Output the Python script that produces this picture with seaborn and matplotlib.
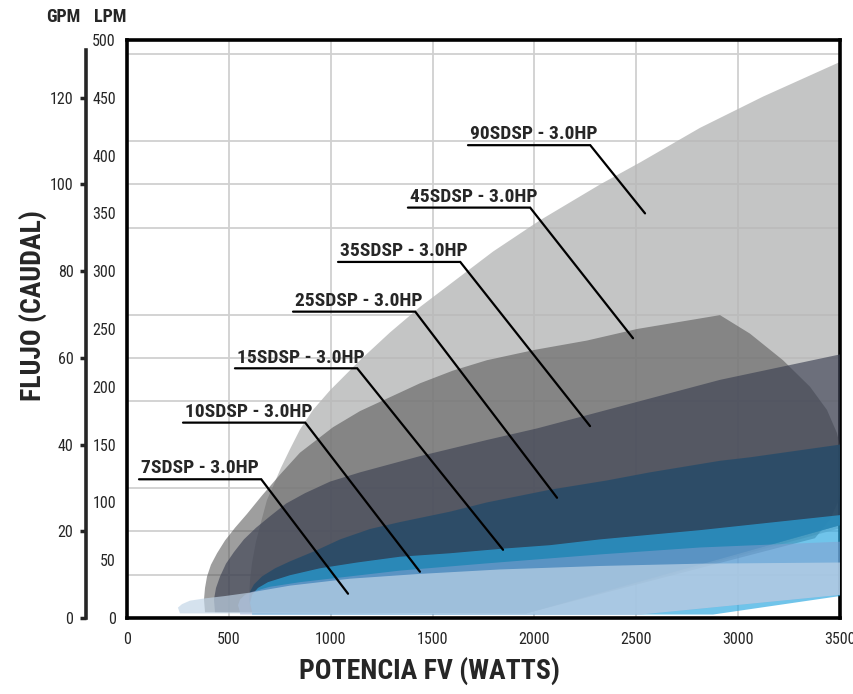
import numpy as np
import matplotlib
matplotlib.use("Agg")
import matplotlib.pyplot as plt
from matplotlib import font_manager
from matplotlib.ticker import MultipleLocator
import seaborn as sns

# ---------------- Data ----------------
# Outline of each pump's operating region: watts (x) and litres per minute (y),
# from the nose along the upper curve, round the right end and back along the bottom.
w_90 = [604, 599, 604, 614, 633, 658, 687, 722, 756, 800, 849, 913, 997, 1144, 1291, 1438, 1610,
        1797, 2027, 2322, 2518, 2813, 3122, 3500, 3697, 3697, 1960, 604]
lpm_90 = [5, 17, 33, 48, 66, 83, 102, 116, 130, 146, 163, 180, 197, 223, 247, 269, 292,
          317, 344, 375, 394, 424, 451, 481, 496, 87, 4, 5]

w_45 = [383, 378, 383, 393, 412, 442, 481, 530, 589, 663, 751, 849, 1011, 1144, 1291, 1438, 1600,
        1767, 2003, 2258, 2504, 2911, 3058, 3220, 3353, 3436, 3485, 3510, 3515, 3495, 3451, 3377,
        1960, 383]
lpm_45 = [5, 16, 26, 36, 46, 56, 67, 78, 90, 106, 124, 143, 165, 179, 191, 203, 214,
          223, 232, 240, 250, 262, 246, 223, 200, 180, 160, 141, 121, 102, 85, 69,
          4, 5]

w_35 = [432, 427, 437, 457, 486, 525, 574, 633, 702, 781, 874, 997, 1144, 1291, 1438, 1767,
        2013, 2420, 2911, 3500, 3697, 3697, 1960, 432]
lpm_35 = [5, 16, 26, 36, 47, 57, 68, 78, 88, 99, 108, 118, 126, 133, 140, 154,
          164, 183, 206, 228, 235, 90, 4, 5]

w_25 = [614, 599, 604, 623, 663, 727, 800, 923, 1046, 1193, 1340, 1586, 1767, 2077, 2356, 2567,
        2911, 3058, 3500, 3697, 3697, 1960, 614]
lpm_25 = [5, 16, 23, 29, 36, 43, 49, 58, 68, 77, 83, 92, 100, 111, 119, 126,
          136, 139, 150, 154, 90, 4, 5]

w_15 = [614, 604, 614, 643, 692, 800, 947, 1129, 1340, 1586, 1846, 2077, 2322, 2813, 3500, 3697,
        3697, 3500, 2877, 614]
lpm_15 = [5, 13, 20, 26, 31, 37, 43, 48, 53, 56, 60, 63, 68, 76, 89, 93,
          23, 19, 3, 3]

w_10 = [555, 545, 555, 579, 619, 702, 849, 1095, 1340, 1748, 2322, 2813, 3500, 3697,
        3697, 3500, 2518, 555]
lpm_10 = [5, 11, 16, 20, 23, 27, 31, 36, 41, 47, 55, 61, 66, 67,
          24, 20, 3, 3]

w_7 = [260, 250, 270, 309, 383, 481, 604, 800, 1095, 1424, 1831, 2322, 2813, 3500, 3697,
       3697, 3500, 2518, 260]
lpm_7 = [4, 9, 12, 15, 17, 19, 22, 28, 34, 38, 42, 45, 47, 48, 49,
         24, 20, 3, 4]

# Labels: text, start of the underline (watts, lpm) and the point the leader ends on
label_text = ['7SDSP - 3.0HP', '10SDSP - 3.0HP', '15SDSP - 3.0HP', '25SDSP - 3.0HP',
              '35SDSP - 3.0HP', '45SDSP - 3.0HP', '90SDSP - 3.0HP']
label_w = [59, 275, 530, 815, 1036, 1379, 1674]
label_lpm = [120, 169, 216, 265, 308, 355, 409]
tip_w = [1085, 1438, 1846, 2111, 2273, 2484, 2543]
tip_lpm = [21, 40, 59, 104, 166, 242, 350]

x_ticks = [0, 500, 1000, 1500, 2000, 2500, 3000, 3500]
lpm_ticks = [0, 50, 100, 150, 200, 250, 300, 350, 400, 450, 500]
gpm_ticks = [0, 20, 40, 60, 80, 100, 120]

# ---------------- Style ----------------
sns.set_style("white")
names = {f.name for f in font_manager.fontManager.ttflist}
narrow = next((n for n in ['Liberation Sans Narrow', 'DejaVu Sans Condensed', 'Roboto Condensed',
                           'Open Sans Condensed'] if n in names), 'DejaVu Sans')
plt.rcParams['font.family'] = [narrow, 'DejaVu Sans']

fig = plt.figure(figsize=(8.54, 6.94), dpi=100)
ax = fig.add_axes([0.1487, 0.1095, 0.8349, 0.8329])

# shapes, back to front
shapes = [
    (w_90, lpm_90, '#b6b7b7', 0.8),
    (w_45, lpm_45, '#555555', 0.57),
    (w_35, lpm_35, '#3a3f51', 0.64),
    (w_25, lpm_25, '#274b68', 0.85),
    (w_15, lpm_15, '#2aa7e0', 0.67),
    (w_10, lpm_10, '#879ecf', 0.52),
    (w_7, lpm_7, '#c1d5e7', 0.67),
]
for i, (w, q, c, a) in enumerate(shapes):
    ax.fill(w, q, color=c, alpha=a, lw=0, zorder=2 + i)

# leader lines and labels
for txt, x0, y0, xt, yt in zip(label_text, label_w, label_lpm, tip_w, tip_lpm):
    ax.plot([x0, x0 + 600, xt], [y0, y0, yt], color='black', lw=1.6,
            solid_joinstyle='miter', zorder=20)
    ax.text(x0 + 12, y0 + 5, txt, fontsize=14, fontweight='bold', ha='left', va='baseline', zorder=21)

ax.set_xlim(0, 3500)
ax.set_ylim(0, 500)
ax.set_xticks(x_ticks)
ax.set_yticks(lpm_ticks)
ax.yaxis.set_minor_locator(MultipleLocator(37.5))
ax.grid(which='major', axis='x', color='#d0d0d0', lw=1.3, zorder=0)
ax.grid(which='minor', axis='y', color='#d0d0d0', lw=1.3, zorder=0)
ax.set_axisbelow(True)
ax.tick_params(axis='y', which='minor', length=0)
ax.tick_params(axis='both', which='major', direction='out', length=4, width=2.5,
               labelsize=11.5, color='black')
ax.tick_params(axis='x', pad=6)
ax.tick_params(axis='y', pad=4)
for s in ax.spines.values():
    s.set_linewidth(2.6)
    s.set_color('black')

# second flow scale in gallons per minute
sec = ax.secondary_yaxis(-0.0575, functions=(lambda l: l / 3.75, lambda g: g * 3.75))
sec.set_yticks(gpm_ticks)
sec.tick_params(direction='out', length=4, width=2.5, labelsize=11.5, pad=5)
sec.spines['left'].set_linewidth(2.6)
sec.spines['left'].set_bounds(0, 131)

fig.text(63 / 854, 1 - 17 / 694, 'GPM', fontsize=13, fontweight='bold', ha='center', va='center')
fig.text(110 / 854, 1 - 17 / 694, 'LPM', fontsize=13, fontweight='bold', ha='center', va='center')
fig.text(430 / 854, 1 - 671 / 694, 'POTENCIA FV (WATTS)', fontsize=20, fontweight='bold',
         ha='center', va='center')
fig.text(33 / 854, 1 - 305 / 694, 'FLUJO (CAUDAL)', fontsize=20, fontweight='bold',
         ha='center', va='center', rotation=90)

fig.savefig('out.png', dpi=100)
